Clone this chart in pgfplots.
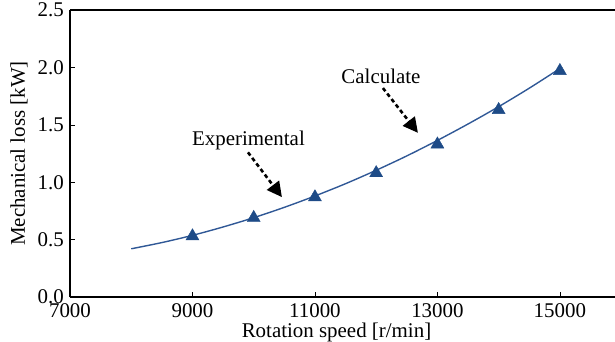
\documentclass[border=0pt]{standalone}
\usepackage{pgfplots}
\pgfplotsset{compat=1.18}
\usepackage{fontspec}
\setmainfont{Liberation Serif}
\usetikzlibrary{arrows.meta}
\definecolor{lineblue}{RGB}{48,88,150}
\definecolor{markblue}{RGB}{30,75,135}
\begin{document}
\fontsize{21}{25}\selectfont
\begin{tikzpicture}
\begin{axis}[
  name=ax,
  scale only axis,
  width=545bp, height=287bp,
  xmin=7000, xmax=15900, ymin=0, ymax=2.5,
  axis x line*=box, axis y line*=left,
  axis line style={line width=1.6pt},
  xtick={7000,9000,11000,13000,15000},
  ytick={0,0.5,1.0,1.5,2.0,2.5},
  scaled ticks=false,
  yticklabel style={/pgf/number format/fixed,/pgf/number format/fixed zerofill,/pgf/number format/precision=1},
  xticklabel style={/pgf/number format/1000 sep={}},
  /pgf/number format/assume math mode=true,
  tick align=inside, xtick pos=bottom, ytick pos=left,
  major tick length=5pt,
  tick style={line width=0.6pt, black},
  ticklabel style={font=\fontsize{21}{25}\selectfont},
  xticklabel style={anchor=base, yshift=-20bp},
  yticklabel style={anchor=east, xshift=1bp},
  label style={font=\fontsize{21}{25}\selectfont},
  xlabel={Rotation speed [r/min]},
  ylabel={Mechanical loss [kW]},
  xlabel style={at={(rel axis cs:0.5,0)}, anchor=base, yshift=-40bp, xshift=-6bp},
  ylabel style={at={(rel axis cs:0,0.5)}, anchor=base, yshift=45bp},
  clip=false,
]
\addplot[lineblue, line width=1.4pt, smooth] coordinates {
 (8000,0.420) (8500,0.474) (9000,0.537) (9500,0.610) (10000,0.691) (10500,0.781)
 (11000,0.880) (11500,0.987) (12000,1.104) (12500,1.229) (13000,1.364) (13500,1.507)
 (14000,1.658) (14500,1.819) (15000,1.990)};
\addplot[only marks, mark=triangle*, mark size=7.5pt, markblue] coordinates {
 (9000,0.53) (10000,0.69) (11000,0.87) (12000,1.08) (13000,1.33) (14000,1.63) (15000,1.97)};
\node[font=\fontsize{21}{25}\selectfont] at (axis cs:12078,1.92) {Calculate};
\node[font=\fontsize{21}{25}\selectfont] at (axis cs:9914,1.36) {Experimental};
\draw[dash pattern=on 4pt off 3pt, line width=2.6pt, -{Triangle[length=15pt,width=15pt]}] (axis cs:12110,1.82) -- (axis cs:12682,1.43);
\draw[dash pattern=on 4pt off 3pt, line width=2.6pt, -{Triangle[length=15pt,width=15pt]}] (axis cs:9906,1.26) -- (axis cs:10461,0.87);
\end{axis}
\pgfresetboundingbox
\path[use as bounding box] ([xshift=-70bp,yshift=-45bp]ax.south west) rectangle ([yshift=10bp]ax.north east);
\end{tikzpicture}
\end{document}
